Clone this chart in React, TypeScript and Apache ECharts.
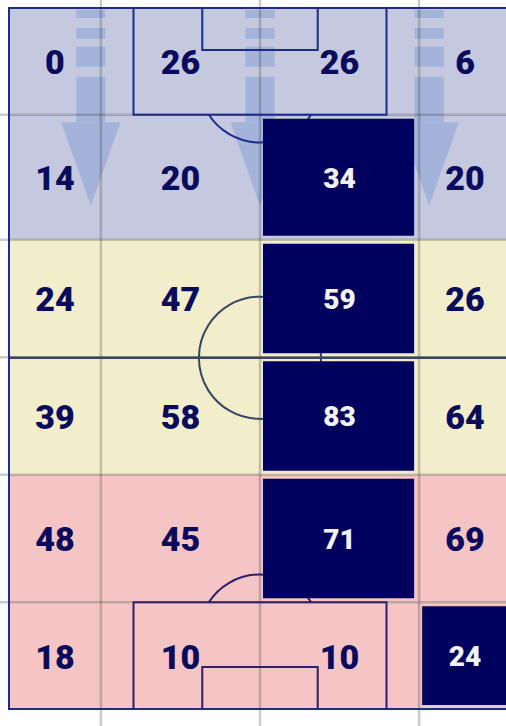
import React, { useEffect, useRef } from "react";
import * as echarts from "echarts";

// Zone edges in pitch units (x: 0-100 across the width, y: 0-105 m along the length)
const columnEdges = [0, 18.3, 50, 81.7, 100];
const rowEdges = [105, 89, 70.3, 52.7, 35.1, 16, 0];

// Values per zone row, top to bottom, left to right
const row1 = [0, 26, 26, 6];
const row2 = [14, 20, 34, 20];
const row3 = [24, 47, 59, 26];
const row4 = [39, 58, 83, 64];
const row5 = [48, 45, 71, 69];
const row6 = [18, 10, 10, 24];
const zoneRows = [row1, row2, row3, row4, row5, row6];

// Highlighted zones as [row, column]
const highlightedZones = [
  [1, 2],
  [2, 2],
  [3, 2],
  [4, 2],
  [5, 3],
];

// Which third each row belongs to (0 attacking, 1 middle, 2 defensive)
const rowThird = [0, 0, 1, 1, 2, 2];

// Lanes of the direction arrows (x in pitch units)
const arrowLanes = [16.3, 50, 83.7];

const thirdColors = ["#c5c9df", "#f2edca", "#f5c4c4"];
const NAVY = "#00005e";
const TEXT_NAVY = "#0b0b5e";

const cellData: number[][] = [];
zoneRows.forEach((vals, r) => {
  vals.forEach((v, c) => {
    const hl = highlightedZones.some((h) => h[0] === r && h[1] === c) ? 1 : 0;
    cellData.push([
      (columnEdges[c] + columnEdges[c + 1]) / 2,
      (rowEdges[r] + rowEdges[r + 1]) / 2,
      v,
      r,
      c,
      hl,
    ]);
  });
});

const gridLineData: number[][] = [];
columnEdges.slice(1, -1).forEach((x) => gridLineData.push([x, 52.5, 0]));
rowEdges.slice(1, -1).forEach((y) => gridLineData.push([50, y, 1]));

export default function App() {
  const ref = useRef<HTMLDivElement>(null);

  useEffect(() => {
    if (!ref.current) return;
    const chart = echarts.init(ref.current, undefined, { renderer: "svg" });

    const zoneBgRender = (params: any, api: any) => {
      const r = api.value(3);
      const c = api.value(4);
      const p0 = api.coord([columnEdges[c], rowEdges[r]]);
      const p1 = api.coord([columnEdges[c + 1], rowEdges[r + 1]]);
      return {
        type: "rect",
        shape: { x: p0[0], y: p0[1], width: p1[0] - p0[0], height: p1[1] - p0[1] },
        style: { fill: thirdColors[rowThird[r]] },
      };
    };

    const arrowRender = (params: any, api: any) => {
      const cx = api.value(0);
      const shaftHalf = 2.9;
      const headHalf = 5.9;
      const dashes = [
        [104.7, 103.5],
        [102.0, 100.4],
        [99.2, 96.2],
        [94.7, 87.9],
      ];
      const fill = "#a3b3da";
      const children: any[] = dashes.map((d) => {
        const a = api.coord([cx - shaftHalf, d[0]]);
        const b = api.coord([cx + shaftHalf, d[1]]);
        return {
          type: "rect",
          shape: { x: a[0], y: a[1], width: b[0] - a[0], height: b[1] - a[1] },
          style: { fill },
        };
      });
      children.push({
        type: "polygon",
        shape: {
          points: [
            api.coord([cx - headHalf, 87.9]),
            api.coord([cx + headHalf, 87.9]),
            api.coord([cx, 75.4]),
          ],
        },
        style: { fill },
      });
      return { type: "group", children };
    };

    const gridLineRender = (params: any, api: any) => {
      const horiz = api.value(2) === 1;
      let a, b;
      if (horiz) {
        const y = api.value(1);
        a = api.coord([-20, y]);
        b = api.coord([120, y]);
      } else {
        const x = api.value(0);
        a = api.coord([x, -20]);
        b = api.coord([x, 125]);
      }
      return {
        type: "line",
        shape: { x1: a[0], y1: a[1], x2: b[0], y2: b[1] },
        style: { stroke: "rgba(40,40,40,0.24)", lineWidth: 2.5 },
      };
    };

    const pitchRender = (params: any, api: any) => {
      const outline = "#1d2b80";
      const topColor = "#1b2d88";
      const bottomColor = "#2e2066";
      const midColor = "#3a4664";
      const midY = 52.6;
      const c00 = api.coord([0, 0]);
      const c11 = api.coord([100, 105]);
      const rPx = Math.abs(api.coord([0, 9.15])[1] - api.coord([0, 0])[1]);
      const box = (y0: number, y1: number, x0: number, x1: number, stroke: string) => ({
        type: "polyline",
        shape: {
          points: [api.coord([x0, y0]), api.coord([x0, y1]), api.coord([x1, y1]), api.coord([x1, y0])],
        },
        style: { stroke, lineWidth: 2, fill: "none" },
      });
      const mid = api.coord([50, midY]);
      const ml0 = api.coord([0, midY]);
      const ml1 = api.coord([100, midY]);

      const topSpot = api.coord([50, 105 - 11]);
      const topEdge = api.coord([50, 89])[1];
      const tA = Math.asin((topEdge - topSpot[1]) / rPx);
      const botSpot = api.coord([50, 11]);
      const botEdge = api.coord([50, 16])[1];
      const bA = Math.asin((botSpot[1] - botEdge) / rPx);

      return {
        type: "group",
        children: [
          {
            type: "line",
            shape: { x1: ml0[0], y1: ml0[1], x2: ml1[0], y2: ml1[1] },
            style: { stroke: midColor, lineWidth: 2.5 },
          },
          {
            type: "circle",
            shape: { cx: mid[0], cy: mid[1], r: rPx },
            style: { stroke: midColor, lineWidth: 2, fill: "none" },
          },
          box(105, 89, 24.8, 75.2, topColor),
          box(105, 98.7, 38.5, 61.5, topColor),
          box(0, 16, 24.8, 75.2, bottomColor),
          box(0, 6.3, 38.5, 61.5, bottomColor),
          {
            type: "arc",
            shape: { cx: topSpot[0], cy: topSpot[1], r: rPx, startAngle: tA, endAngle: Math.PI - tA, clockwise: true },
            style: { stroke: topColor, lineWidth: 2, fill: "none" },
          },
          {
            type: "arc",
            shape: {
              cx: botSpot[0],
              cy: botSpot[1],
              r: rPx,
              startAngle: Math.PI + bA,
              endAngle: 2 * Math.PI - bA,
              clockwise: true,
            },
            style: { stroke: bottomColor, lineWidth: 2, fill: "none" },
          },
          {
            type: "rect",
            shape: { x: c00[0], y: c11[1], width: c11[0] - c00[0], height: c00[1] - c11[1] },
            style: { stroke: outline, lineWidth: 2, fill: "none" },
          },
        ],
      };
    };

    const cellRender = (params: any, api: any) => {
      const r = api.value(3);
      const c = api.value(4);
      const hl = api.value(5) === 1;
      const val = api.value(2);
      const center = api.coord([api.value(0), api.value(1)]);
      const children: any[] = [];
      if (hl) {
        const p0 = api.coord([columnEdges[c], rowEdges[r]]);
        const p1 = api.coord([columnEdges[c + 1], rowEdges[r + 1]]);
        children.push({
          type: "rect",
          shape: { x: p0[0] + 3, y: p0[1] + 4, width: p1[0] - p0[0] - 8, height: p1[1] - p0[1] - 8 },
          style: { fill: NAVY },
        });
      }
      children.push({
        type: "text",
        x: center[0],
        y: center[1] + 1,
        style: {
          text: String(val),
          fill: hl ? "#f2f2f2" : TEXT_NAVY,
          fontSize: hl ? 28 : 34,
          fontWeight: 900,
          fontFamily: "Roboto",
          align: "center",
          verticalAlign: "middle",
        },
      });
      return { type: "group", children };
    };

    chart.setOption({
      animation: false,
      backgroundColor: "#ffffff",
      grid: { left: 0, right: 0, top: 8, height: 701, containLabel: false },
      xAxis: { type: "value", min: -9 / 5.02, max: 497 / 5.02, show: false },
      yAxis: { type: "value", min: 0, max: 105, show: false },
      series: [
        { type: "custom", name: "zones", z: 1, clip: false, silent: true, data: cellData, renderItem: zoneBgRender },
        {
          type: "custom",
          name: "arrows",
          z: 2,
          clip: false,
          silent: true,
          data: arrowLanes.map((x) => [x, 90]),
          renderItem: arrowRender,
        },
        { type: "custom", name: "gridlines", z: 3, clip: false, silent: true, data: gridLineData, renderItem: gridLineRender },
        { type: "custom", name: "pitch", z: 4, clip: false, silent: true, data: [[50, 52.5]], renderItem: pitchRender },
        { type: "custom", name: "values", z: 5, clip: false, silent: true, data: cellData, renderItem: cellRender },
      ],
    });

    return () => chart.dispose();
  }, []);

  return (
    <div
      ref={ref}
      style={{ position: "absolute", left: 0, top: 0, width: 506, height: 726 }}
    />
  );
}
